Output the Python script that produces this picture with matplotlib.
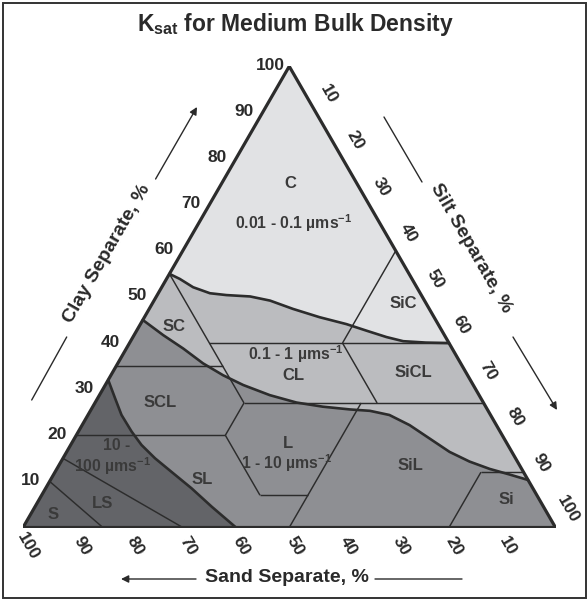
import numpy as np
import matplotlib
matplotlib.use("Agg")
import matplotlib.pyplot as plt
from matplotlib.patches import Polygon, FancyArrowPatch, Rectangle

plt.rcParams['font.family'] = ['Liberation Sans', 'DejaVu Sans']
plt.rcParams['mathtext.fontset'] = 'custom'
plt.rcParams['mathtext.rm'] = 'Liberation Sans'
plt.rcParams['mathtext.it'] = 'Liberation Sans:italic'
plt.rcParams['mathtext.bf'] = 'Liberation Sans:bold'

# ---- Ksat zone boundaries, points given as (sand %, clay %) ----
# between 0.01-0.1 and 0.1-1 um/s
bound_low_sand = [45, 43.6, 42.0, 39.5, 36.6, 32.3, 29.0, 25.6, 21.5, 17.2, 14.2, 11.1, 8.4, 4.3, 0]
bound_low_clay = [55, 53.9, 52.1, 50.8, 50.4, 50.1, 49.2, 47.4, 45.6, 44.1, 42.7, 41.3, 40.4, 40.1, 40]
# between 0.1-1 and 1-10 um/s
bound_mid_sand = [55, 52.8, 50.5, 48.4, 45.9, 43.2, 39.3, 35.1, 30.6, 25.8, 22.2, 19.0, 16.3, 14.0, 11.7, 9.0, 6.0, 2.9, 0]
bound_mid_clay = [45, 41.7, 38.8, 35.6, 33.0, 30.9, 28.7, 27.1, 26.2, 25.6, 25.3, 24.4, 22.2, 19.3, 16.4, 14.3, 12.7, 11.5, 10.3]
# between 1-10 and 10-100 um/s
bound_high_sand = [68, 68.7, 69.3, 69.2, 68.8, 67.7, 66.1, 64.1, 62.3, 60]
bound_high_clay = [32, 28.0, 24.4, 20.8, 17.9, 15.0, 12.1, 8.5, 4.5, 0]

zone_colors = ['#e1e2e4', '#bbbcbf', '#8e8f93', '#636468']

# ---- USDA texture class boundaries: ((sand, clay), (sand, clay)) ----
class_lines = [
    ((90, 10), (85, 0)),
    ((85, 15), (70, 0)),
    ((80, 20), (52, 20)),
    ((52, 20), (45, 27)),
    ((52, 20), (52, 7)),
    ((52, 7), (43, 7)),
    ((23, 27), (50, 0)),
    ((45, 27), (0, 27)),
    ((45, 55), (45, 27)),
    ((65, 35), (45, 35)),
    ((45, 40), (0, 40)),
    ((20, 40), (0, 60)),
    ((20, 40), (20, 27)),
    ((8, 12), (0, 12)),
    ((8, 12), (20, 0)),
]

# ---- labels: (text, sand, clay) ----
class_labels = [
    ('C', 12.6, 74.5), ('SiC', 4.4, 48.5), ('SC', 49.9, 43.5),
    ('CL', 32.8, 33.0), ('SiCL', 9.9, 33.7), ('SCL', 60.7, 27.2),
    ('L', 41.1, 18.3), ('SiL', 20.5, 13.5), ('Si', 6.3, 6.0),
    ('SL', 61.0, 10.5), ('LS', 82.6, 5.1), ('S', 92.9, 2.9),
]
ksat_labels = [
    ('0.01 - 0.1 µms$^{\\mathregular{-1}}$', 16.3, 65.9),
    ('0.1 - 1 µms$^{\\mathregular{-1}}$', 30.0, 37.5),
    ('1 - 10 µms$^{\\mathregular{-1}}$', 43.5, 14.0),
    ('10 -', 73.6, 17.7),
    ('100 µms$^{\\mathregular{-1}}$', 76.6, 13.3),
]
tick_values = [10, 20, 30, 40, 50, 60, 70, 80, 90, 100]

SQ3 = np.sqrt(3) / 2


def tern(sand, clay):
    sand = np.asarray(sand, float)
    clay = np.asarray(clay, float)
    return 100 - sand - clay / 2, clay * SQ3


def pts(sands, clays):
    x, y = tern(sands, clays)
    return np.column_stack([x, y])


W, H = 588, 600
fig = plt.figure(figsize=(W / 100, H / 100), dpi=100)

# triangle box in pixels: bottom-left (23, 527.5), side 532.5 px
x0, ybase, side = 23.0, 527.5, 532.5
ax = fig.add_axes([x0 / W, (H - ybase) / H, side / W, side * SQ3 / H])
ax.set_xlim(0, 100)
ax.set_ylim(0, 100 * SQ3)
ax.axis('off')

low = pts(bound_low_sand, bound_low_clay)
mid = pts(bound_mid_sand, bound_mid_clay)
high = pts(bound_high_sand, bound_high_clay)
apex = pts([0], [100])
br = pts([0], [0])
bl = pts([100], [0])

zones = [
    np.vstack([apex, low]),
    np.vstack([low, mid[::-1]]),
    np.vstack([mid, br, high[::-1]]),
    np.vstack([high, bl]),
]
for poly, col in zip(zones, zone_colors):
    ax.add_patch(Polygon(poly, closed=True, facecolor=col, edgecolor=col,
                         lw=0.3, zorder=1))

line_col = '#2c2c2c'
for (s1, c1), (s2, c2) in class_lines:
    xa, ya = tern([s1, s2], [c1, c2])
    ax.plot(xa, ya, color=line_col, lw=1.05, solid_capstyle='butt', zorder=2)

for b in (low, mid, high):
    ax.plot(b[:, 0], b[:, 1], color=line_col, lw=1.9, solid_joinstyle='round',
            solid_capstyle='round', zorder=3)

ax.add_patch(Polygon(np.vstack([bl, br, apex]), closed=True, fill=False,
                     edgecolor=line_col, lw=2.3, joinstyle='miter', zorder=4))

lab_col = '#3a3a3a'
for txt, s, c in class_labels:
    x, y = tern(s, c)
    ax.text(x, y, txt, ha='center', va='center', fontsize=12, fontweight='bold',
            color=lab_col, zorder=5)
for txt, s, c in ksat_labels:
    x, y = tern(s, c)
    ax.text(x, y, txt, ha='center', va='center', fontsize=11.3, fontweight='bold',
            color=lab_col, zorder=5)

# tick labels along the three sides (offsets in pixels)
tick_col = '#2a2a2a'
PT = 0.72
for v in tick_values:
    # clay, left side
    x, y = tern(100 - v, v)
    ax.annotate(str(v), (x, y), xytext=(-19 * PT, 1 * PT), textcoords='offset points',
                ha='center', va='center', fontsize=12.5, fontweight='bold',
                color=tick_col, annotation_clip=False)
    # silt, right side
    x, y = tern(0, 100 - v)
    ax.annotate(str(v), (x, y), xytext=(12.5 * PT, 18 * PT), textcoords='offset points',
                ha='center', va='center', fontsize=12.5, fontweight='bold', rotation=-60,
                color=tick_col, annotation_clip=False)
    # sand, bottom side
    x, y = tern(v, 0)
    ax.annotate(str(v), (x, y), xytext=(5.5 * PT, -18.5 * PT), textcoords='offset points',
                ha='center', va='center', fontsize=12.5, fontweight='bold', rotation=-60,
                color=tick_col, annotation_clip=False)


def fp(px, py):
    return (px / W, 1 - py / H)


fig.text(*fp(295, 25), 'K$_{\\mathregular{sat}}$ for Medium Bulk Density', ha='center',
         va='center', fontsize=16.5, fontweight='bold', color='#2a2a2a')
fig.text(*fp(107, 254), 'Clay Separate, %', ha='center', va='center', rotation=60,
         fontsize=14, fontweight='bold', color='#2a2a2a')
fig.text(*fp(471, 248), 'Silt Separate, %', ha='center', va='center', rotation=-60,
         fontsize=14, fontweight='bold', color='#2a2a2a')
fig.text(*fp(287, 578), 'Sand Separate, %', ha='center', va='center',
         fontsize=14, fontweight='bold', color='#2a2a2a')


def arrow(p0, p1, head=True):
    style = '-|>' if head else '-'
    fig.add_artist(FancyArrowPatch(fp(*p0), fp(*p1), transform=fig.transFigure,
                                   arrowstyle=style, mutation_scale=11, lw=1.0,
                                   color='#2a2a2a', shrinkA=0, shrinkB=0))


arrow((155.6, 179), (197, 107))
arrow((31.7, 400), (66.7, 337), head=False)
arrow((384, 117), (422, 182), head=False)
arrow((513, 337), (557, 410))
arrow((196, 579), (121, 579))
arrow((375, 579), (462, 579), head=False)

# figure frame
fig.add_artist(Rectangle(fp(2.5, 597.5), 583 / W, 595 / H, transform=fig.transFigure,
                         fill=False, edgecolor='#333333', lw=1.4))

fig.savefig('out.png', dpi=100, facecolor='white')
